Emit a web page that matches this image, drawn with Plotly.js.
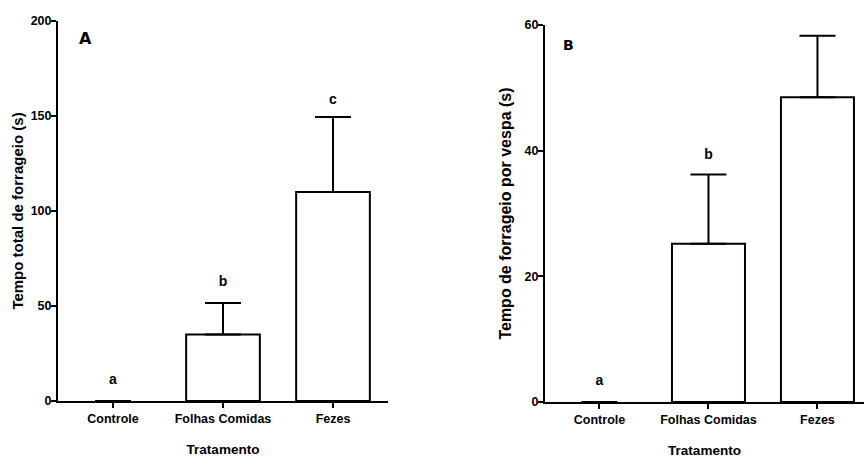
<!DOCTYPE html>
<html>
<head>
<meta charset="utf-8">
<script src="https://cdn.plot.ly/plotly-3.0.1.min.js"></script>
<style>html,body{margin:0;padding:0;background:#fff;}#chart{width:864px;height:460px;}</style>
</head>
<body>
<div id="chart"></div>
<script>
// ---- data ----
const categories = ['Controle', 'Folhas Comidas', 'Fezes'];
const totalMean = [0, 35, 110];
const totalErr = [0, 16.6, 39.5];
const totalLetters = ['a', 'b', 'c'];
const totalLetterPos = [11, 62.6, 158];
const waspMean = [0, 25.2, 48.5];
const waspErr = [0, 11, 9.8];
const waspLetters = ['a', 'b', 'c'];
const waspLetterPos = [3.3, 39.2, 61.1];
const yTicksA = [0, 50, 100, 150, 200];
const yTicksB = [0, 20, 40, 60];

const FONT = 'Liberation Sans, Arial, sans-serif';
const black = '#000';

function barTrace(y, err, xa, ya) {
  return {
    type: 'bar', x: categories, y: y, xaxis: xa, yaxis: ya,
    width: 0.67,
    marker: {color: '#fff', line: {color: black, width: y.map(v => v > 0 ? 2 : 0)}},
    error_y: {type: 'data', symmetric: false, array: err, arrayminus: err.map(() => 0),
              color: black, thickness: 2, width: 18},
    hoverinfo: 'skip', showlegend: false
  };
}
function letterTrace(pos, letters, xa, ya) {
  return {
    type: 'scatter', mode: 'text', x: categories, y: pos, text: letters,
    xaxis: xa, yaxis: ya, cliponaxis: false,
    textposition: 'middle center',
    textfont: {family: FONT, size: 14, color: black, weight: 'bold'},
    hoverinfo: 'skip', showlegend: false
  };
}

const data = [
  barTrace(totalMean, totalErr, 'x', 'y'),
  letterTrace(totalLetterPos, totalLetters, 'x', 'y'),
  barTrace(waspMean, waspErr, 'x2', 'y2'),
  letterTrace(waspLetterPos, waspLetters, 'x2', 'y2')
];

const tickF = {family: FONT, size: 12.5, color: black, weight: 'bold'};
function xAxis(domain, range, anchor) {
  return {
    domain: domain, range: range, anchor: anchor, type: 'category',
    showline: true, linecolor: black, linewidth: 2,
    ticks: 'outside', ticklen: 5, tickwidth: 2, tickcolor: black,
    showgrid: false, zeroline: false, tickfont: tickF,
    title: {text: 'Tratamento', font: {family: FONT, size: 13.5, color: black, weight: 'bold'}, standoff: 20}
  };
}
function yAxis(domain, range, ticks, anchor, title, size, standoff) {
  return {
    domain: domain, range: range, anchor: anchor,
    tickmode: 'array', tickvals: ticks,
    showline: true, linecolor: black, linewidth: 2,
    ticks: 'outside', ticklen: 5, tickwidth: 2, tickcolor: black,
    ticklabelstandoff: -3,
    showgrid: false, zeroline: false, tickfont: tickF,
    title: {text: title, font: {family: FONT, size: size, color: black, weight: 'bold'}, standoff: standoff}
  };
}

const layout = {
  width: 864, height: 460,
  margin: {l: 0, r: 0, t: 0, b: 0},
  paper_bgcolor: '#fff', plot_bgcolor: '#fff',
  showlegend: false,
  xaxis: xAxis([58/864, 388/864], [-0.5, 2.5], 'y'),
  yaxis: yAxis([59/460, 439/460], [0, 200], yTicksA, 'x', 'Tempo total de forrageio (s)', 15, 3),
  xaxis2: xAxis([545/864, 1], [-0.5, 2.427], 'y2'),
  yaxis2: yAxis([58/460, 435/460], [0, 60], yTicksB, 'x2', 'Tempo de forrageio por vespa (s)', 16, 9),
  annotations: [
    {text: 'A', xref: 'paper', yref: 'paper', x: 85/864, y: (460-39)/460, showarrow: false,
     xanchor: 'center', yanchor: 'middle', font: {family: 'DejaVu Sans, Arial', size: 16, color: black, weight: 'bold'}},
    {text: 'B', xref: 'paper', yref: 'paper', x: 568/864, y: (460-45)/460, showarrow: false,
     xanchor: 'center', yanchor: 'middle', font: {family: 'DejaVu Sans, Arial', size: 14, color: black, weight: 'bold'}}
  ]
};

Plotly.newPlot('chart', data, layout, {staticPlot: true, displayModeBar: false});
</script>
</body>
</html>
